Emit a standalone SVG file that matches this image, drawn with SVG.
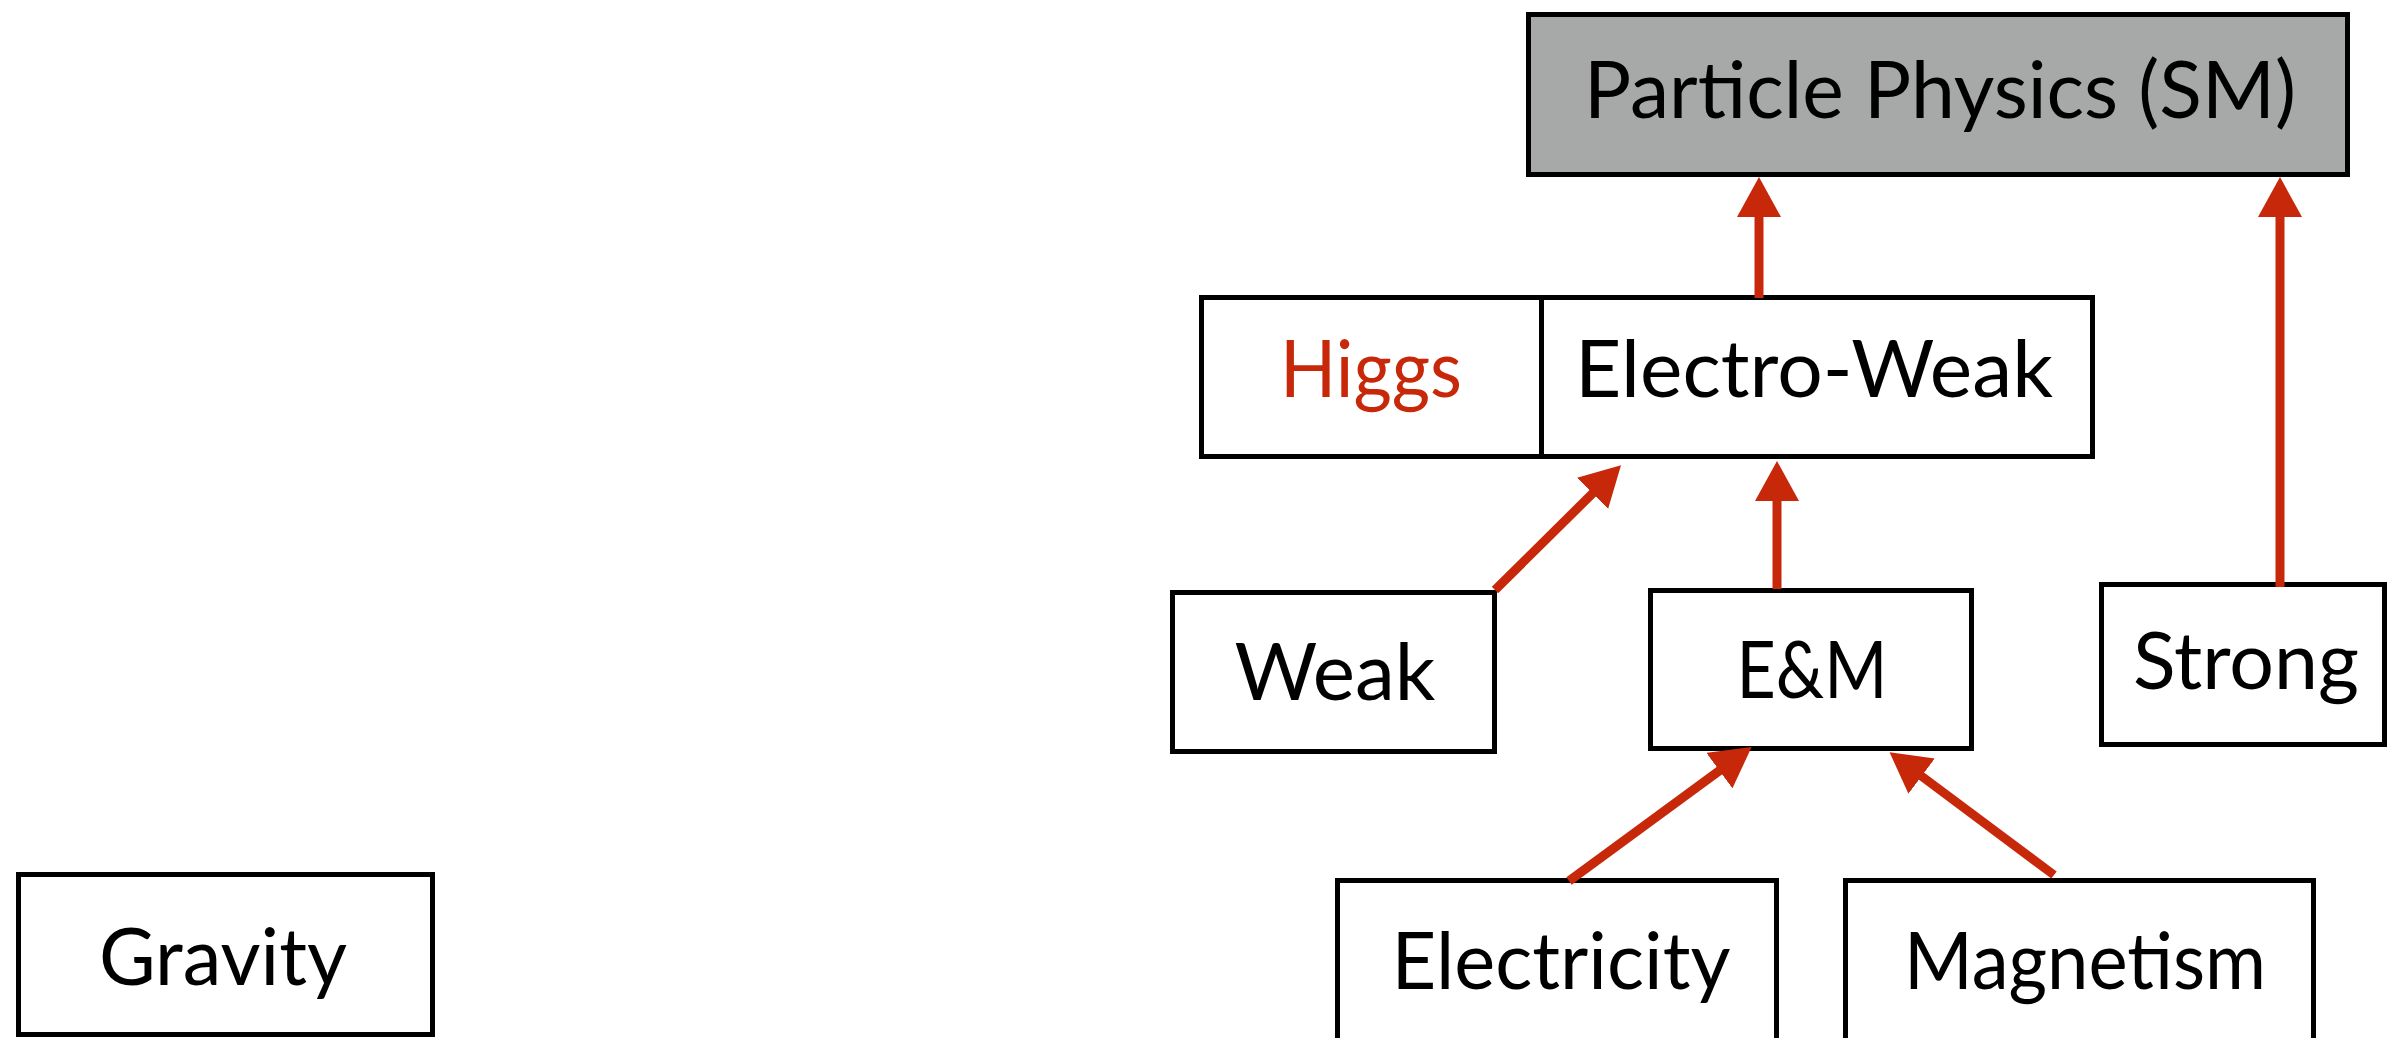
<svg xmlns="http://www.w3.org/2000/svg" width="2395" height="1038" viewBox="0 0 2395 1038">
<style>
.box{fill:#ffffff;stroke:#000000;stroke-width:5}
.sm{fill:#A6A9A7;stroke:#000000;stroke-width:5}
.t{font-family:Lato,"Liberation Sans",sans-serif;font-size:80px;fill:#000000;text-anchor:middle}
.red{fill:#C8280A}
.conn{stroke:#C8280A;stroke-width:9;fill:none}
</style>
<defs>
<marker id="ah" viewBox="0 -22 40 44" refX="2" refY="0" markerWidth="40" markerHeight="44" markerUnits="userSpaceOnUse" orient="auto">
<path d="M0,-22 L40,0 L0,22 z" fill="#C8280A"/>
</marker>
</defs>
<rect width="2395" height="1038" fill="#ffffff"/>
<g id="particle-physics">
<rect class="sm" x="1528.5" y="14.5" width="819" height="160"/>
<text class="t" x="1940" y="118" textLength="712" lengthAdjust="spacingAndGlyphs">Particle Physics (SM)</text>
</g>
<g id="higgs">
<rect class="box" x="1201.5" y="297.5" width="340" height="159"/>
<text class="t red" x="1371" y="397" textLength="182" lengthAdjust="spacingAndGlyphs">Higgs</text>
</g>
<g id="electro-weak">
<rect class="box" x="1541.5" y="297.5" width="551" height="159"/>
<text class="t" x="1814" y="397" textLength="478" lengthAdjust="spacingAndGlyphs">Electro-Weak</text>
</g>
<g id="weak">
<rect class="box" x="1172.5" y="592.5" width="322" height="159"/>
<text class="t" x="1335" y="700" textLength="201" lengthAdjust="spacingAndGlyphs">Weak</text>
</g>
<g id="em">
<rect class="box" x="1650.5" y="590.5" width="321" height="158"/>
<text class="t" x="1812" y="698" textLength="151" lengthAdjust="spacingAndGlyphs">E&amp;M</text>
</g>
<g id="strong">
<rect class="box" x="2101.5" y="584.5" width="283" height="160"/>
<text class="t" x="2246" y="689" textLength="226" lengthAdjust="spacingAndGlyphs">Strong</text>
</g>
<g id="electricity">
<rect class="box" x="1337.5" y="880.5" width="439" height="200"/>
<text class="t" x="1561" y="989" textLength="339" lengthAdjust="spacingAndGlyphs">Electricity</text>
</g>
<g id="magnetism">
<rect class="box" x="1845.5" y="880.5" width="468" height="200"/>
<text class="t" x="2085" y="989" textLength="362" lengthAdjust="spacingAndGlyphs">Magnetism</text>
</g>
<g id="gravity">
<rect class="box" x="18.5" y="874.5" width="414" height="160"/>
<text class="t" x="223" y="985" textLength="248" lengthAdjust="spacingAndGlyphs">Gravity</text>
</g>
<g id="connectors">
<line class="conn" x1="1759" y1="298" x2="1759" y2="215" marker-end="url(#ah)"/>
<line class="conn" x1="2280" y1="587" x2="2280" y2="215" marker-end="url(#ah)"/>
<line class="conn" x1="1777" y1="589" x2="1777" y2="499" marker-end="url(#ah)"/>
<line class="conn" x1="1495" y1="590" x2="1594" y2="492" marker-end="url(#ah)"/>
<line class="conn" x1="1569" y1="881" x2="1721" y2="769.5" marker-end="url(#ah)"/>
<line class="conn" x1="2054" y1="875" x2="1920" y2="775" marker-end="url(#ah)"/>
</g>
</svg>
